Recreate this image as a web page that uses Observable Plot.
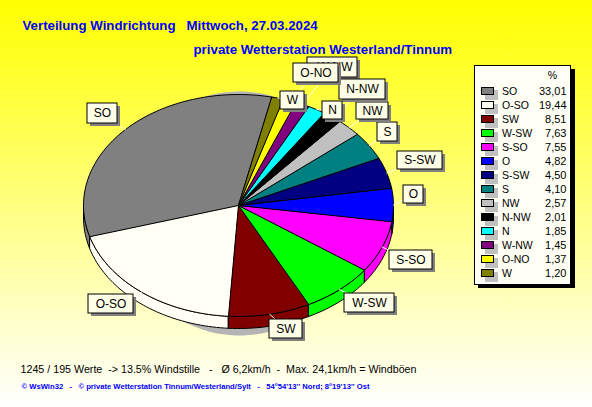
<!DOCTYPE html>
<html><head><meta charset="utf-8">
<style>
html,body{margin:0;padding:0;width:592px;height:407px;overflow:hidden;background:linear-gradient(#ffff00,#ffffff)}
svg{display:block;background:transparent!important}
svg text{white-space:pre}
</style>
<script src="https://cdn.jsdelivr.net/npm/d3@7"></script>
<script src="https://cdn.jsdelivr.net/npm/@observablehq/plot@0.6"></script>
</head><body><script>
const directions=["SO","O-SO","SW","W-SW","S-SO","O","S-SW","S","NW","N-NW","N","W-NW","O-NO","W"];
const shares=[33.01,19.44,8.51,7.63,7.55,4.82,4.50,4.10,2.57,2.01,1.85,1.45,1.37,1.20];
const shareLabels=["33,01","19,44","8,51","7,63","7,55","4,82","4,50","4,10","2,57","2,01","1,85","1,45","1,37","1,20"];
const colors=["#808080","#fffff5","#800000","#00ff00","#ff00ff","#0000ff","#000080","#008080","#c0c0c0","#000000","#00ffff","#800080","#ffff00","#808000"];

const titleLine1="Verteilung Windrichtung   Mittwoch, 27.03.2024";
const titleLine2="private Wetterstation Westerland/Tinnum";
const statsLine="1245 / 195 Werte  -> 13.5% Windstille   -   Ø 6,2km/h  -  Max. 24,1km/h = Windböen";
const creditLine="© WsWin32   -   © private Wetterstation Tinnum/Westerland/Sylt   -   54°54'13'' Nord; 8°19'13'' Ost";

// Layout (pixels on the 592x407 canvas)
const pie={cx:238,cy:205,rx:155,ry:111,depth:12,start:77.5};
const labelBoxes=[ // drawn in this order
 ["W-NW",307,57,357,77],["SO",87,103,117,123],["O-SO",88,294,133,313],["SW",269,319,302,338],
 ["W-SW",344,293,394,312],["S-SO",389,250,432,269],["O",403,185,423,203],["S-SW",397,151,442,169],
 ["S",377,122,397,141],["NW",356,102,388,119],["N-NW",339,79,385,99],["N",322,101,342,119],
 ["O-NO",293,63,338,82],["W",280,91,304,109]
];

const rad=Math.PI/180;
const rim=(t,dy=0)=>({x:pie.cx+pie.rx*Math.cos(t*rad),y:pie.cy-pie.ry*Math.sin(t*rad)+dy});
const total=d3.sum(shares);
let acc=pie.start;
const spans=directions.map((d,i)=>{const a=acc;acc+=shares[i]/total*360;return {d,a,b:acc,mid:(a+acc)/2};});
const arc=(a,b,dy=0)=>{const n=Math.max(2,Math.ceil((b-a)/1.5));return d3.range(n+1).map(k=>rim(a+(b-a)*k/n,dy));};

const faces=spans.flatMap(s=>[{x:pie.cx,y:pie.cy},...arc(s.a,s.b)].map(p=>({...p,cat:s.d})));
const walls=[];
spans.forEach(s=>{
  for(const [lo,hi] of [[180,360],[540,720]]){
    const a=Math.max(s.a,lo),b=Math.min(s.b,hi);
    if(b>a) [...arc(a,b),...arc(a,b,pie.depth).reverse()].forEach(p=>walls.push({...p,cat:s.d,part:s.d+lo}));
  }
});
const shadow=d3.range(0,361,4).map(t=>({x:239+120*Math.cos(t*rad),y:213-122*Math.sin(t*rad)}));

const boxOf=Object.fromEntries(labelBoxes.map(b=>[b[0],b]));
const leaders=spans.flatMap(s=>{const b=boxOf[s.d],p=rim(s.mid);
  return [{...p,k:s.d},{x:(b[1]+b[3])/2,y:(b[2]+b[4])/2,k:s.d}];});
const boxes=labelBoxes.map(([name,x1,y1,x2,y2])=>({name,x1,y1,x2,y2}));
const legendRows=directions.map((d,i)=>({d,v:shareLabels[i],y:91+i*14}));

const F="Liberation Sans, Arial, sans-serif";
const chart=Plot.plot({
  width:592,height:407,margin:0,
  x:{domain:[0,592],range:[0,592],axis:null},
  y:{domain:[0,407],range:[0,407],axis:null},
  color:{domain:directions,range:colors},
  marks:[
    Plot.text([0],{x:()=>22,y:()=>25,text:()=>titleLine1,fontFamily:F,fontWeight:"bold",fontSize:13.25,fill:"#0000ff",textAnchor:"start"}),
    Plot.text([0],{x:()=>193,y:()=>49,text:()=>titleLine2,fontFamily:F,fontWeight:"bold",fontSize:13.3,fill:"#0000ff",textAnchor:"start"}),
    Plot.line(shadow,{x:"x",y:"y",fill:"#b4b4b4",stroke:"none",curve:"linear-closed"}),
    Plot.line(walls,{x:"x",y:"y",z:"part",fill:"cat",stroke:"#000",strokeWidth:1,curve:"linear-closed"}),
    Plot.line(faces,{x:"x",y:"y",z:"cat",fill:"cat",stroke:"#000",strokeWidth:1,curve:"linear-closed"}),
    Plot.line(leaders,{x:"x",y:"y",z:"k",stroke:"#fffff0",strokeWidth:1}),
    ...boxes.flatMap(b=>[
      Plot.rect([b],{x1:d=>d.x1+3,x2:d=>d.x2+3,y1:d=>d.y1+3,y2:d=>d.y2+3,fill:"#808080"}),
      Plot.rect([b],{x1:"x1",x2:"x2",y1:"y1",y2:"y2",fill:"#ffffe8",stroke:"#000",strokeWidth:1}),
      Plot.text([b],{x:d=>(d.x1+d.x2)/2+(d.name==="W-NW"?2.5:0),y:d=>(d.y1+d.y2)/2,text:"name",fontFamily:F,fontSize:12,fill:"#000"})
    ]),
    Plot.rect([0],{x1:()=>478,x2:()=>575,y1:()=>69,y2:()=>288,fill:"#000"}),
    Plot.rect([0],{x1:()=>474.5,x2:()=>570.5,y1:()=>65.5,y2:()=>284.5,fill:"#fffff5",stroke:"#000",strokeWidth:1}),
    Plot.text([0],{x:()=>552,y:()=>75,text:()=>"%",fontFamily:F,fontSize:10.5,fill:"#000"}),
    Plot.rect(legendRows,{x1:()=>485,x2:()=>498,y1:d=>d.y-1,y2:d=>d.y+9,fill:"#c0c0c0"}),
    Plot.rect(legendRows,{x1:()=>481.5,x2:()=>493.5,y1:d=>d.y-3.5,y2:d=>d.y+3.5,fill:"d",stroke:"#000",strokeWidth:1}),
    Plot.text(legendRows,{x:()=>501.5,y:"y",text:"d",fontFamily:F,fontSize:10.5,fill:"#000",textAnchor:"start"}),
    Plot.text(legendRows,{x:()=>566,y:"y",text:"v",fontFamily:F,fontSize:11,fill:"#000",textAnchor:"end"}),
    Plot.text([0],{x:()=>20,y:()=>369,text:()=>statsLine,fontFamily:F,fontSize:10.7,fill:"#000",textAnchor:"start"}),
    Plot.text([0],{x:()=>21,y:()=>386,text:()=>creditLine,fontFamily:F,fontWeight:"bold",fontSize:7.65,fill:"#0000ff",textAnchor:"start"})
  ]
});
document.body.appendChild(chart);
</script></body></html>
